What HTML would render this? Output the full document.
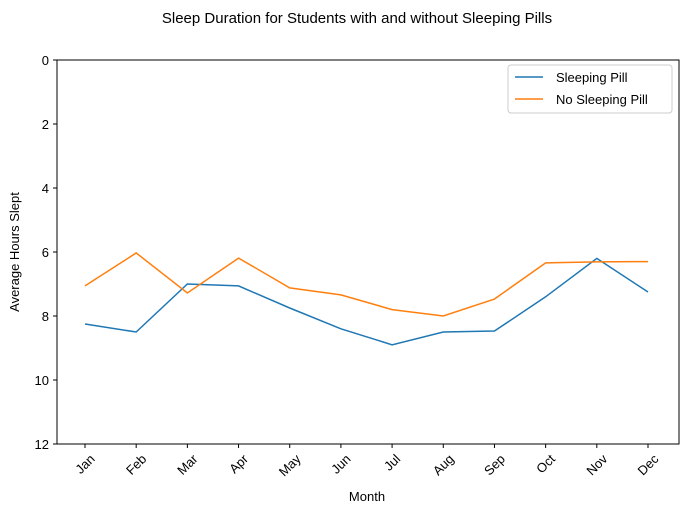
<!DOCTYPE html>
<html><head><meta charset="utf-8"><style>
body{margin:0;background:#fff;}
svg text{font-family:"Liberation Sans","DejaVu Sans",sans-serif;fill:#000;}
</style></head><body>
<svg id="chart" width="687" height="514" xmlns="http://www.w3.org/2000/svg">
<text x="357" y="23" font-size="15" text-anchor="middle">Sleep Duration for Students with and without Sleeping Pills</text>
<rect x="57" y="60" width="622" height="384" fill="none" stroke="#000" stroke-width="1"/>
<g id="yticks"></g><g id="xticks"></g><g id="series"></g>
<text x="367" y="501" font-size="13" text-anchor="middle">Month</text>
<text transform="translate(19,252) rotate(-90)" font-size="13" text-anchor="middle">Average Hours Slept</text>
<g>
<rect x="508" y="65" width="164" height="48" fill="#fff" stroke="#ccc" rx="3"/>
<line x1="515" y1="77" x2="543" y2="77" stroke="#1f77b4" stroke-width="1.5"/>
<text x="556" y="82" font-size="13">Sleeping Pill</text>
<line x1="515" y1="99" x2="543" y2="99" stroke="#ff7f0e" stroke-width="1.5"/>
<text x="556" y="104" font-size="13">No Sleeping Pill</text>
</g>
</svg>
<script>
const months=["Jan","Feb","Mar","Apr","May","Jun","Jul","Aug","Sep","Oct","Nov","Dec"];
const pillValues=[8.25,8.5,7.0,7.06,7.75,8.4,8.9,8.5,8.47,7.4,6.2,7.25];
const noPillValues=[7.06,6.03,7.28,6.19,7.12,7.34,7.8,8.0,7.47,6.34,6.31,6.3];
const yTicks=[0,2,4,6,8,10,12];
const NS="http://www.w3.org/2000/svg";
const xs=i=>85+i*(648-85)/(months.length-1);
const ys=v=>60+v*(444-60)/12;
function mk(tag,attrs,parent){const e=document.createElementNS(NS,tag);for(const k in attrs)e.setAttribute(k,attrs[k]);document.getElementById(parent).appendChild(e);return e;}
yTicks.forEach(t=>{
 const l=mk("line",{x1:53,x2:57,y1:ys(t),y2:ys(t),stroke:"#000"},"yticks");
 
 
 const tx=mk("text",{x:49,y:ys(t)+5,"font-size":13,"text-anchor":"end"},"yticks");
 tx.textContent=t;
 
 
});
months.forEach((m,i)=>{
 const l=mk("line",{x1:xs(i),x2:xs(i),y1:444,y2:448,stroke:"#000"},"xticks");
 
 
 const tx=mk("text",{"font-size":13,"text-anchor":"middle"},"xticks");
 tx.textContent=m;
 
 
 const w=tx.getComputedTextLength();
 const cy=452+(w+13)*0.3536;
 tx.setAttribute("transform",`translate(${xs(i)},${cy}) rotate(-45) translate(0,4.5)`);
});
function line(vals,color,name){
 const p=mk("polyline",{points:vals.map((v,i)=>xs(i)+","+ys(v)).join(" "),fill:"none",stroke:color,"stroke-width":1.5},"series");
 
 
}
line(pillValues,"#1f77b4","sleeping-pill-line");
line(noPillValues,"#ff7f0e","no-sleeping-pill-line");
</script>
</body></html>
